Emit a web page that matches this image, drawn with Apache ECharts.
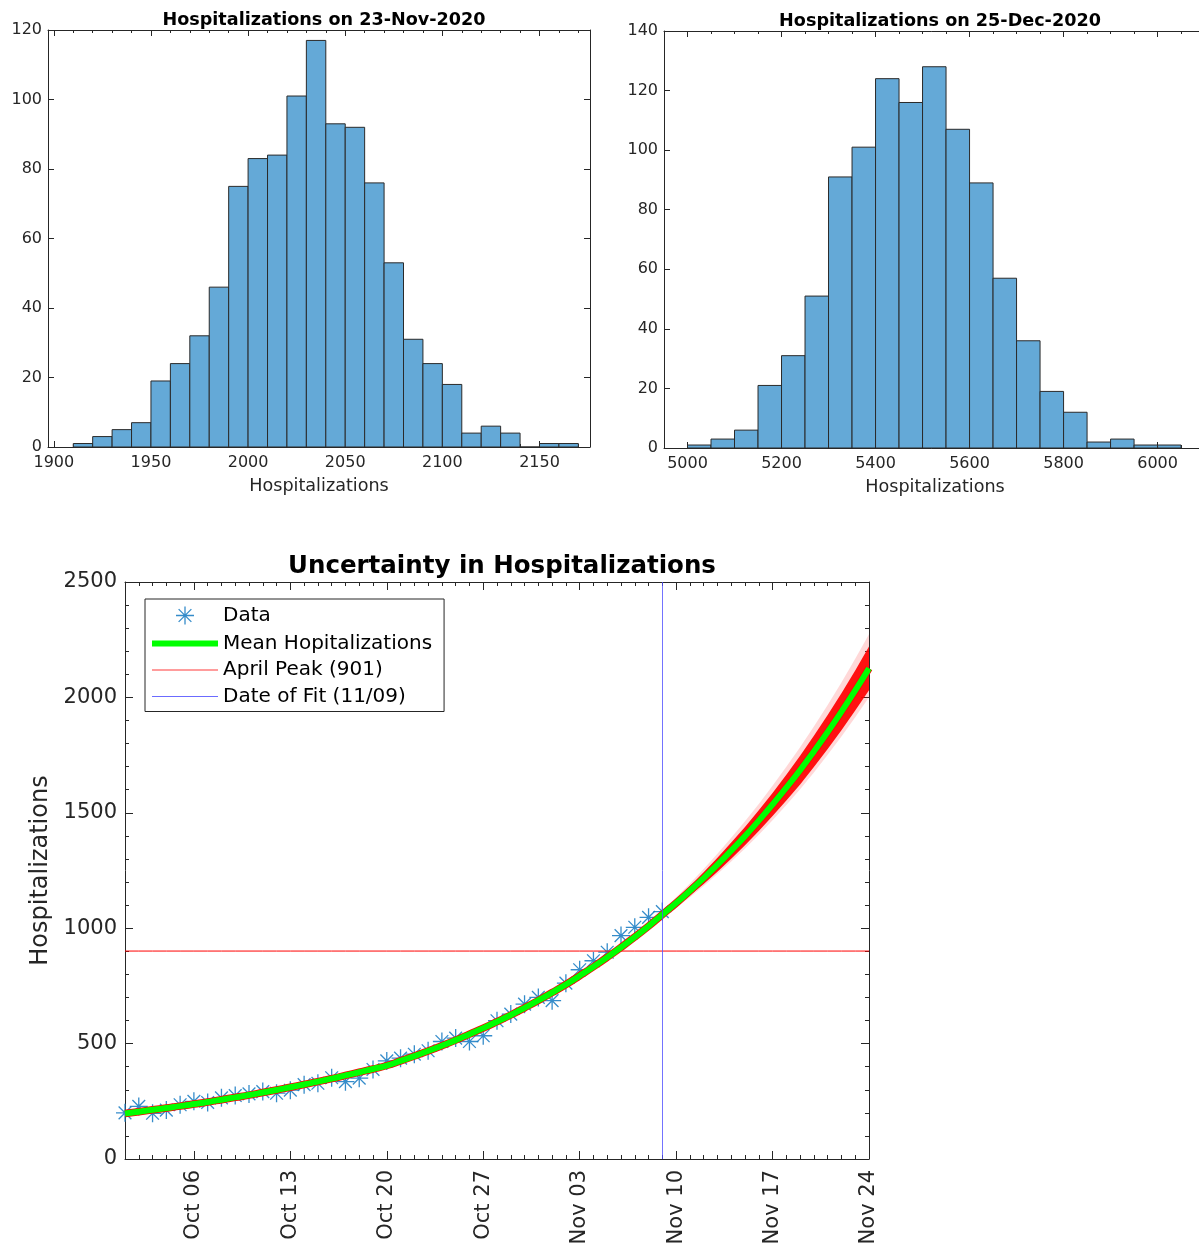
<!DOCTYPE html>
<html>
<head>
<meta charset="utf-8">
<script src="https://cdn.jsdelivr.net/npm/echarts@6/dist/echarts.min.js"></script>
<style>
html, body { margin: 0; padding: 0; background: #fff; }
#chart { width: 1199px; height: 1247px; }
</style>
</head>
<body>
<div id="chart"></div>
<script>
// histogram of simulated hospitalizations on 23-Nov-2020
const hist1Edges = [1910, 1920, 1930, 1940, 1950, 1960, 1970, 1980, 1990, 2000, 2010, 2020, 2030, 2040,
    2050, 2060, 2070, 2080, 2090, 2100, 2110, 2120, 2130, 2140, 2150, 2160, 2170]
const hist1Counts = [1, 3, 5, 7, 19, 24, 32, 46, 75, 83, 84, 101, 117, 93, 92, 76, 53, 31, 24, 18, 4, 6, 4, 0, 1, 1]
const hist1Ticks = [1900, 1950, 2000, 2050, 2100, 2150]
const hist1Minor = [1900, 1910, 1920, 1930, 1940, 1950, 1960, 1970, 1980, 1990, 2000, 2010, 2020, 2030, 2040,
    2050, 2060, 2070, 2080, 2090, 2100, 2110, 2120, 2130, 2140, 2150, 2160, 2170]

// histogram of simulated hospitalizations on 25-Dec-2020
const hist2Edges = [5000, 5050, 5100, 5150, 5200, 5250, 5300, 5350, 5400, 5450, 5500, 5550, 5600, 5650,
    5700, 5750, 5800, 5850, 5900, 5950, 6000, 6050]
const hist2Counts = [1, 3, 6, 21, 31, 51, 91, 101, 124, 116, 128, 107, 89, 57, 36, 19, 12, 2, 3, 1, 1]
const hist2Ticks = [5000, 5200, 5400, 5600, 5800, 6000]
const hist2Minor = [5000, 5050, 5100, 5150, 5200, 5250, 5300, 5350, 5400, 5450, 5500, 5550, 5600, 5650,
    5700, 5750, 5800, 5850, 5900, 5950, 6000, 6050, 6100]

// uncertainty chart
const dates = ['Oct 01', 'Oct 02', 'Oct 03', 'Oct 04', 'Oct 05', 'Oct 06', 'Oct 07', 'Oct 08', 'Oct 09', 'Oct 10',
    'Oct 11', 'Oct 12', 'Oct 13', 'Oct 14', 'Oct 15', 'Oct 16', 'Oct 17', 'Oct 18', 'Oct 19', 'Oct 20',
    'Oct 21', 'Oct 22', 'Oct 23', 'Oct 24', 'Oct 25', 'Oct 26', 'Oct 27', 'Oct 28', 'Oct 29', 'Oct 30', 'Oct 31',
    'Nov 01', 'Nov 02', 'Nov 03', 'Nov 04', 'Nov 05', 'Nov 06', 'Nov 07', 'Nov 08', 'Nov 09', 'Nov 10',
    'Nov 11', 'Nov 12', 'Nov 13', 'Nov 14', 'Nov 15', 'Nov 16', 'Nov 17', 'Nov 18', 'Nov 19', 'Nov 20',
    'Nov 21', 'Nov 22', 'Nov 23', 'Nov 24']
const dateTicks = ['Oct 06', 'Oct 13', 'Oct 20', 'Oct 27', 'Nov 03', 'Nov 10', 'Nov 17', 'Nov 24']
const observed = [200, 228, 198, 212, 235, 250, 245, 265, 275, 282, 292, 285, 298, 322, 328, 352, 335, 350, 388, 425,
    437, 454, 469, 509, 524, 509, 534, 599, 628, 671, 700, 686, 762, 820, 859, 896, 968, 1004, 1047, 1072]
const meanHosp = [197, 205, 213, 221, 229, 238, 247, 257, 267, 277, 288, 299, 311, 323, 335, 348, 362, 376, 390, 405,
    425, 446, 468, 491, 515, 541, 567, 595, 624, 655, 687,
    721, 756, 794, 833, 874, 917, 962, 1009, 1059, 1109, 1162, 1217, 1275, 1336, 1399, 1466, 1536, 1609, 1685,
    1766, 1850, 1938, 2030, 2126]
// spread of the simulated trajectories after the date of fit (Nov 09 .. Nov 24)
const bandStart = 'Nov 09'
const innerLow = [1047, 1093, 1142, 1192, 1245, 1301, 1359, 1421, 1486, 1553, 1623, 1698, 1776, 1858, 1943, 2031]
const innerHigh = [1071, 1125, 1182, 1242, 1305, 1371, 1439, 1511, 1586, 1665, 1747, 1834, 1924, 2018, 2117, 2221]
const outerLow = [1043, 1087, 1134, 1183, 1235, 1289, 1345, 1405, 1468, 1534, 1602, 1675, 1751, 1831, 1914, 2001]
const outerHigh = [1077, 1134, 1194, 1257, 1323, 1392, 1463, 1538, 1617, 1699, 1784, 1874, 1967, 2065, 2167, 2274]
const aprilPeak = 901
const fitDate = 'Nov 09'

const FONT = 'DejaVu Sans'
const AX = '#262626'
const line = { color: AX, width: 1 }
const STAR = 'path://M10,0L10,20M0,10L20,10M2.93,2.93L17.07,17.07M2.93,17.07L17.07,2.93'
const plain = (v) => String(v)

const chart = echarts.init(document.getElementById('chart'))

// x axis of a histogram: labelled bottom axis, minor ticks, and mirrored top ticks
function histX (grid, min, max, ticks, minor) {
    const base = { type: 'value', gridIndex: grid, min: min, max: max, splitLine: { show: false } }
    return [
        Object.assign({}, base, {
            position: 'bottom',
            name: 'Hospitalizations',
            nameLocation: 'middle',
            nameGap: 30,
            nameTextStyle: { fontSize: 17.6, color: AX, fontFamily: FONT },
            axisLine: { show: true, onZero: false, lineStyle: line },
            axisTick: { show: true, inside: true, length: 6, customValues: ticks, lineStyle: line },
            axisLabel: { customValues: ticks, formatter: plain, fontSize: 16, color: AX, fontFamily: FONT, margin: 8 }
        }),
        Object.assign({}, base, {
            position: 'bottom',
            axisLine: { show: false, onZero: false },
            axisTick: { show: true, inside: true, length: 3, customValues: minor, lineStyle: line },
            axisLabel: { show: false }
        }),
        Object.assign({}, base, {
            position: 'top',
            axisLine: { show: true, onZero: false, lineStyle: line },
            axisTick: { show: true, inside: true, length: 6, customValues: ticks, lineStyle: line },
            axisLabel: { show: false }
        }),
        Object.assign({}, base, {
            position: 'top',
            axisLine: { show: false, onZero: false },
            axisTick: { show: true, inside: true, length: 3, customValues: minor, lineStyle: line },
            axisLabel: { show: false }
        })
    ]
}

function histY (grid, max) {
    const base = {
        type: 'value', gridIndex: grid, min: 0, max: max, interval: 20,
        splitLine: { show: false },
        axisLine: { show: true, onZero: false, lineStyle: line },
        axisTick: { show: true, inside: true, length: 6, lineStyle: line }
    }
    return [
        Object.assign({}, base, {
            position: 'left',
            axisLabel: { formatter: plain, fontSize: 16, color: AX, fontFamily: FONT, margin: 6 }
        }),
        Object.assign({}, base, { position: 'right', axisLabel: { show: false } })
    ]
}

function isDateTick (i) {
    return dateTicks.indexOf(dates[i]) >= 0
}

function dateAxis (pos, major, labels) {
    return {
        type: 'category', gridIndex: 2, position: pos, data: dates, boundaryGap: false,
        axisLine: { show: major, onZero: false, lineStyle: line },
        axisTick: { show: true, inside: true, length: major ? 8 : 4, interval: major ? isDateTick : 0, lineStyle: line },
        axisLabel: { show: labels, interval: isDateTick, rotate: 90, fontSize: 21, color: AX, fontFamily: FONT, margin: 11 },
        splitLine: { show: false }
    }
}

function countAxis (pos, labels) {
    return {
        type: 'value', gridIndex: 2, position: pos, min: 0, max: 2500, interval: 500,
        name: labels ? 'Hospitalizations' : '',
        nameLocation: 'middle',
        nameGap: 71,
        nameTextStyle: { fontSize: 24, color: AX, fontFamily: FONT },
        axisLine: { show: true, onZero: false, lineStyle: line },
        axisTick: { show: true, inside: true, length: 8, lineStyle: line },
        minorTick: { show: true, splitNumber: 5, length: 4, lineStyle: line },
        axisLabel: { show: labels, formatter: plain, fontSize: 21, color: AX, fontFamily: FONT, margin: 8 },
        splitLine: { show: false }
    }
}

function histSeries (edges, counts, xi, yi) {
    return {
        type: 'custom',
        xAxisIndex: xi,
        yAxisIndex: yi,
        data: counts.map((c, i) => [edges[i], edges[i + 1], c]),
        encode: { x: [0, 1], y: 2 },
        renderItem: (params, api) => {
            const p0 = api.coord([api.value(0), 0])
            const p1 = api.coord([api.value(1), api.value(2)])
            return {
                type: 'rect',
                shape: { x: p0[0], y: p1[1], width: p1[0] - p0[0], height: p0[1] - p1[1] },
                style: { fill: '#64a9d7', stroke: '#2a2a2a', lineWidth: 1 }
            }
        }
    }
}

// band arrays only cover the dates after the fit
const bandIdx = dates.indexOf(bandStart)
function padBand (arr) {
    return dates.map((d, i) => (i < bandIdx ? '-' : arr[i - bandIdx]))
}
const outerBase = padBand(outerLow)
const outerSpan = padBand(outerHigh.map((v, i) => v - outerLow[i]))
const innerBase = padBand(innerLow)
const innerSpan = padBand(innerHigh.map((v, i) => v - innerLow[i]))

function bandSeries (data, stack, fill) {
    return {
        type: 'line', xAxisIndex: 8, yAxisIndex: 4, data: data, stack: stack,
        symbol: 'none', silent: true,
        lineStyle: { width: 0, opacity: 0 },
        areaStyle: fill ? { color: fill, opacity: 1 } : undefined
    }
}

const titleStyle = { fontSize: 17.6, fontWeight: 'bold', color: '#000', fontFamily: FONT }

const option = {
    animation: false,
    backgroundColor: '#fff',
    textStyle: { fontFamily: FONT },
    title: [
        { text: 'Hospitalizations on 23-Nov-2020', left: 319, top: 6, textAlign: 'center', textStyle: titleStyle },
        { text: 'Hospitalizations on 25-Dec-2020', left: 935, top: 7, textAlign: 'center', textStyle: titleStyle },
        {
            text: 'Uncertainty in Hospitalizations', left: 497, top: 549, textAlign: 'center',
            textStyle: { fontSize: 24.5, fontWeight: 'bold', color: '#000', fontFamily: FONT }
        }
    ],
    grid: [
        { left: 48, top: 30, width: 542, height: 417, outerBoundsMode: 'none' },
        { left: 664, top: 31, width: 542, height: 417, outerBoundsMode: 'none' },
        { left: 125, top: 582, width: 744, height: 577, outerBoundsMode: 'none' }
    ],
    xAxis: [].concat(
        histX(0, 1897, 2176, hist1Ticks, hist1Minor),
        histX(1, 4950, 6103, hist2Ticks, hist2Minor),
        [dateAxis('bottom', true, true), dateAxis('bottom', false, false), dateAxis('top', true, false), dateAxis('top', false, false)]
    ),
    yAxis: [].concat(
        histY(0, 120),
        histY(1, 140),
        [countAxis('left', true), countAxis('right', false)]
    ),
    legend: {
        orient: 'vertical',
        left: 145,
        top: 599,
        padding: [5, 12, 5, 7],
        itemWidth: 66,
        itemHeight: 18,
        itemGap: 6.5,
        backgroundColor: '#fff',
        borderColor: AX,
        borderWidth: 1,
        borderRadius: 0,
        selectedMode: false,
        textStyle: { fontSize: 20, color: '#000', fontFamily: FONT },
        data: [
            { name: 'Data', icon: STAR, itemStyle: { color: 'none', borderColor: '#1f7fc4', borderWidth: 1.3 } },
            { name: 'Mean Hopitalizations', icon: 'path://M0,0L66,0L66,6L0,6Z', itemStyle: { color: '#00ff00', borderWidth: 0 } },
            { name: 'April Peak (901)', icon: 'path://M0,0L66,0L66,1L0,1Z', itemStyle: { color: '#ff3b3b', borderWidth: 0 } },
            { name: 'Date of Fit (11/09)', icon: 'path://M0,0L66,0L66,1L0,1Z', itemStyle: { color: '#6b6bff', borderWidth: 0 } }
        ]
    },
    series: [
        histSeries(hist1Edges, hist1Counts, 0, 0),
        histSeries(hist2Edges, hist2Counts, 4, 2),
        bandSeries(outerBase, 'outer', null),
        bandSeries(outerSpan, 'outer', 'rgba(255, 40, 40, 0.18)'),
        bandSeries(innerBase, 'inner', null),
        bandSeries(innerSpan, 'inner', 'rgba(255, 0, 0, 0.92)'),
        {
            // red simulations hidden under the mean before the fit date
            type: 'line', xAxisIndex: 8, yAxisIndex: 4, data: meanHosp, silent: true,
            symbol: 'none', smooth: true, lineStyle: { color: '#ff0000', width: 7.5 }
        },
        {
            name: 'Data', type: 'scatter', xAxisIndex: 8, yAxisIndex: 4, data: observed,
            symbol: STAR, symbolSize: 18,
            itemStyle: { color: 'none', borderColor: '#1f7fc4', borderWidth: 1.3, opacity: 0.9 }
        },
        {
            name: 'April Peak (901)', type: 'line', xAxisIndex: 8, yAxisIndex: 4,
            data: dates.map(() => aprilPeak),
            symbol: 'none', silent: true,
            lineStyle: { color: '#ff0000', width: 1 }, itemStyle: { color: '#ff0000' }
        },
        {
            name: 'Mean Hopitalizations', type: 'line', xAxisIndex: 8, yAxisIndex: 4, data: meanHosp,
            symbol: 'none', smooth: true, lineStyle: { color: '#00ff00', width: 6 }, itemStyle: { color: '#00ff00' }
        },
        {
            name: 'Date of Fit (11/09)', type: 'line', xAxisIndex: 8, yAxisIndex: 4, data: [],
            itemStyle: { color: '#5050ff' },
            markLine: {
                silent: true, symbol: 'none', label: { show: false },
                lineStyle: { color: '#5050ff', width: 1, type: 'solid', opacity: 0.8 },
                data: [{ xAxis: fitDate }]
            }
        }
    ]
}

chart.setOption(option)
</script>
</body>
</html>
